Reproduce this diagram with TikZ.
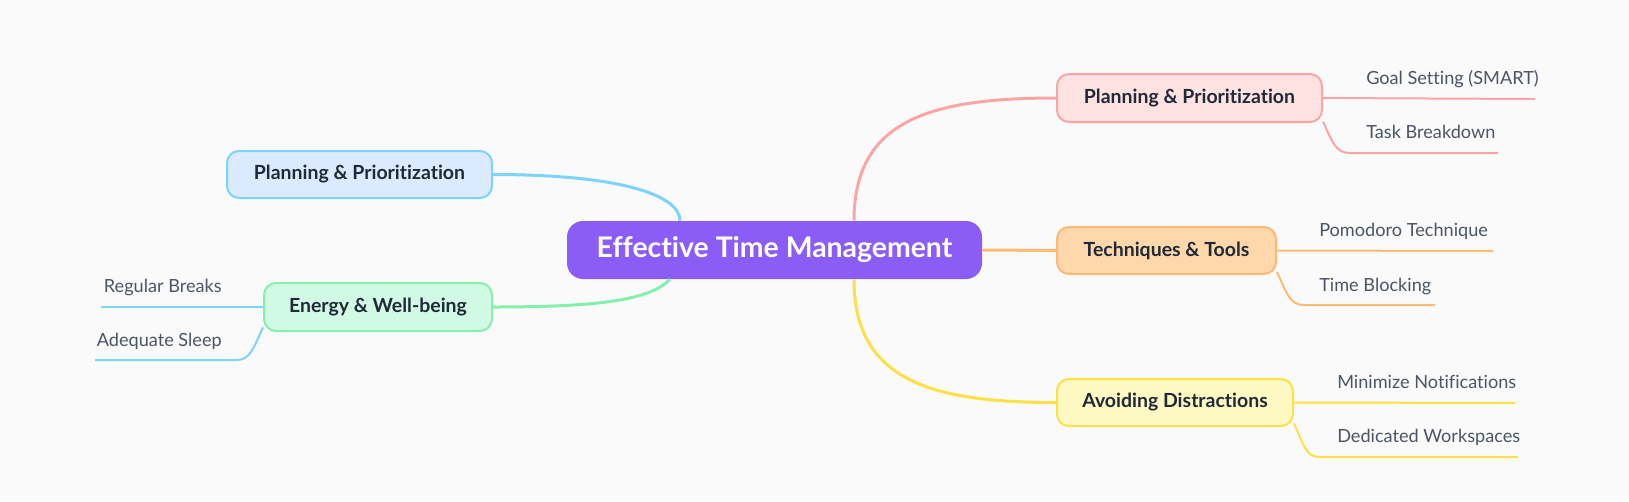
\documentclass[tikz,border=0pt]{standalone}
\usepackage{fontspec}
\setmainfont{Lato}[Ligatures=NoCommon]
\usetikzlibrary{calc}
\definecolor{bg}{HTML}{FAFAFA}
\definecolor{rootc}{HTML}{8B5CF6}
\definecolor{pinkl}{HTML}{FCA5A5}
\definecolor{pinkf}{HTML}{FEE2E2}
\definecolor{orl}{HTML}{FDBA74}
\definecolor{orf}{HTML}{FED7AA}
\definecolor{yell}{HTML}{FDE047}
\definecolor{yelf}{HTML}{FEF9C3}
\definecolor{blul}{HTML}{7DD3FC}
\definecolor{bluf}{HTML}{DBEAFE}
\definecolor{grnl}{HTML}{86EFAC}
\definecolor{grnf}{HTML}{D1FAE5}
\definecolor{nodetxt}{HTML}{1F2937}
\definecolor{leaftxt}{HTML}{4B5563}
\tikzset{
  sub/.style={draw, line width=1.5pt, rounded corners=9pt, inner sep=0pt,
    font=\fontsize{14.6}{18}\selectfont\bfseries, text=nodetxt, align=center},
  leaf/.style={anchor=base west, inner sep=0pt, font=\fontsize{13.6}{17}\selectfont, text=leaftxt},
  mainline/.style={line width=2.25pt},
  leafline/.style={line width=1.5pt},
}
\begin{document}
\begin{tikzpicture}[x=0.75pt,y=-0.75pt]
\fill[bg] (0,0) rectangle (1629,501);
\useasboundingbox (0,0) rectangle (1629,501);

% root
\node[fill=rootc, rounded corners=12pt, minimum width=311.25pt, minimum height=43.5pt, inner sep=0pt,
  text=white, font=\fontsize{21.3}{25}\selectfont\bfseries] (root) at (774.5,250) {Effective Time Management};

% subtopics
\node[sub, draw=pinkl, fill=pinkf, minimum width=198.75pt, minimum height=36pt] (pink) at (1189.5,98) {Planning \& Prioritization};
\node[sub, draw=orl, fill=orf, minimum width=164.25pt, minimum height=35.25pt] (orange) at (1166.5,250.5) {Techniques \& Tools};
\node[sub, draw=yell, fill=yelf, minimum width=177pt, minimum height=35.25pt] (yellow) at (1175,402.5) {Avoiding Distractions};
\node[sub, draw=blul, fill=bluf, minimum width=198.75pt, minimum height=35.25pt] (blue) at (359.5,174.5) {Planning \& Prioritization};
\node[sub, draw=grnl, fill=grnf, minimum width=171pt, minimum height=36pt] (green) at (378,307) {Energy \& Well-being};

% main connectors
\draw[mainline, pinkl] ($(root.north)+(79.5,0)$) .. controls (854,120) and (930,98) .. (pink.west);
\draw[mainline, orl] (root.east) -- (orange.west);
\draw[mainline, yell] ($(root.south)+(79.5,0)$) .. controls (854,380) and (930,402.5) .. (yellow.west);
\draw[mainline, blul] (blue.east) .. controls (620,174.5) and (680,195) .. ($(root.north)+(-94.5,0)$);
\draw[mainline, grnl] ($(root.south)+(-104.5,0)$) .. controls (650,300) and (600,307) .. (green.east);

% leaves: pink
\node[leaf] (g1) at (1366,84) {Goal Setting (SMART)};
\node[leaf] (g2) at (1366,138) {Task Breakdown};
\coordinate (g1e) at (1535,99);
\coordinate (g2c) at (1350,153);
\coordinate (g2e) at (1498,153);
\draw[leafline, pinkl] (pink.east) -- (g1e);
\draw[leafline, pinkl] (pink.-10) .. controls +(10,22) and +(-14,0) .. (g2c) -- (g2e);

% leaves: orange
\node[leaf] (o1) at (1319,236) {Pomodoro Technique};
\node[leaf] (o2) at (1319,291) {Time Blocking};
\coordinate (o1e) at (1493,251);
\coordinate (o2c) at (1304,305);
\coordinate (o2e) at (1435,305);
\draw[leafline, orl] (orange.east) -- (o1e);
\draw[leafline, orl] (orange.-11) .. controls +(10,22) and +(-14,0) .. (o2c) -- (o2e);

% leaves: yellow
\node[leaf] (y1) at (1337,388) {Minimize Notifications};
\node[leaf] (y2) at (1337,442) {Dedicated Workspaces};
\coordinate (y1e) at (1515,403);
\coordinate (y2c) at (1320,457);
\coordinate (y2e) at (1518,457);
\draw[leafline, yell] (yellow.east) -- (y1e);
\draw[leafline, yell] (yellow.-10) .. controls +(10,22) and +(-14,0) .. (y2c) -- (y2e);

% leaves: green (blue lines)
\node[leaf, anchor=base east] (e1) at (222,292) {Regular Breaks};
\node[leaf, anchor=base east] (e2) at (222,346) {Adequate Sleep};
\coordinate (e1e) at (101,307);
\coordinate (e2c) at (236,360);
\coordinate (e2e) at (95,360);
\draw[leafline, blul] (green.west) -- (e1e);
\draw[leafline, blul] (green.190) .. controls +(-10,22) and +(14,0) .. (e2c) -- (e2e);
\end{tikzpicture}
\end{document}
